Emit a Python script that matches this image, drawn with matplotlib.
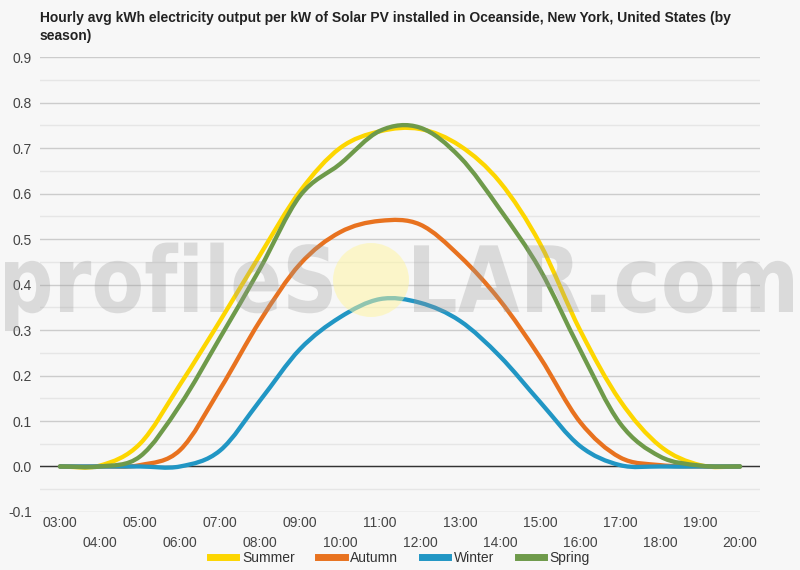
import matplotlib
matplotlib.use('Agg')
import matplotlib.pyplot as plt
from matplotlib.path import Path
from matplotlib.patches import PathPatch, Ellipse
from matplotlib.lines import Line2D
from matplotlib.textpath import TextPath
from matplotlib.font_manager import FontProperties
from matplotlib.transforms import Affine2D, IdentityTransform
import numpy as np

plt.rcParams['font.family'] = ['Liberation Sans', 'DejaVu Sans']

# hourly averages, 03:00 .. 20:00
hours = ['03:00', '04:00', '05:00', '06:00', '07:00', '08:00', '09:00', '10:00', '11:00',
         '12:00', '13:00', '14:00', '15:00', '16:00', '17:00', '18:00', '19:00', '20:00']
summer = [0, 0.002, 0.05, 0.18, 0.32, 0.465, 0.605, 0.70, 0.737,
          0.742, 0.705, 0.625, 0.49, 0.30, 0.145, 0.045, 0.003, 0]
autumn = [0, 0, 0.003, 0.036, 0.17, 0.32, 0.445, 0.515, 0.54,
          0.532, 0.462, 0.365, 0.24, 0.098, 0.02, 0.003, 0, 0]
winter = [0, 0, 0, 0, 0.035, 0.145, 0.258, 0.328, 0.368,
          0.36, 0.32, 0.242, 0.142, 0.045, 0.003, 0, 0, 0]
spring = [0, 0, 0.022, 0.135, 0.283, 0.435, 0.595, 0.665, 0.738,
          0.745, 0.68, 0.565, 0.433, 0.257, 0.095, 0.022, 0.002, 0]

series = [('Summer', summer, '#fdd600'),
          ('Autumn', autumn, '#e8721f'),
          ('Winter', winter, '#2196c4'),
          ('Spring', spring, '#6e9a4a')]

BG = '#f7f7f7'
W, H = 800, 570


def smooth_path(y):
    # cubic bezier through the points (catmull-rom tangents)
    y = np.asarray(y, float)
    m = np.zeros_like(y)
    m[1:-1] = (y[2:] - y[:-2]) / 2
    verts = [(0, y[0])]
    codes = [Path.MOVETO]
    for i in range(len(y) - 1):
        verts += [(i + 1/3, y[i] + m[i]/3), (i + 1 - 1/3, y[i+1] - m[i+1]/3), (i + 1, y[i+1])]
        codes += [Path.CURVE4] * 3
    return Path(verts, codes)


def watermark(fig, s, x0, x1, base, xh):
    # bold text squeezed into a box given in pixels from the top-left
    tp = TextPath((0, 0), s, size=1, prop=FontProperties(family='DejaVu Sans', weight='bold'))
    ext = tp.get_extents()
    sy = xh / 0.547
    sx = (x1 - x0) / ext.width
    tr = Affine2D().translate(-ext.x0, 0).scale(sx, sy).translate(x0, H - base)
    fig.add_artist(PathPatch(tr.transform_path(tp), transform=IdentityTransform(),
                             facecolor='#999999', edgecolor='none', alpha=0.3, zorder=10))


fig = plt.figure(figsize=(8, 5.7), dpi=100, facecolor=BG)
ax = fig.add_axes([0.05, 0.1018, 0.9, 0.798], facecolor=BG)

x = np.arange(len(hours))
for name, vals, col in series:
    ax.add_patch(PathPatch(smooth_path(vals), facecolor='none', edgecolor=col,
                           lw=3.1, capstyle='round', joinstyle='round', zorder=3))

ax.set_xlim(-0.5, len(hours) - 0.5)
ax.set_ylim(-0.1, 0.9)
ax.set_yticks(np.arange(-0.1, 0.91, 0.1))
ax.set_yticklabels([f'{v:.1f}' for v in np.arange(-0.1, 0.91, 0.1)])
ax.set_yticks(np.arange(-0.05, 0.9, 0.1), minor=True)
ax.grid(True, which='major', axis='y', color='#cccccc', lw=1)
ax.grid(True, which='minor', axis='y', color='#e6e6e6', lw=1)
ax.axhline(0, color='#333333', lw=1, zorder=2)
ax.set_axisbelow(True)
for s in ax.spines.values():
    s.set_visible(False)

ax.set_xticks(x)
ax.set_xticklabels(hours)
ax.tick_params(axis='both', which='both', length=0, labelsize=10, labelcolor='#444444')
ax.tick_params(axis='y', pad=6)
for i, t in enumerate(ax.xaxis.get_major_ticks()):
    t.set_pad(3 if i % 2 == 0 else 17)

# profileSOLAR.com watermark, sun in place of the O
watermark(fig, 'profileS', 5, 332, 312, 50)
watermark(fig, 'LAR.com', 414, 793, 312, 50)
fig.add_artist(Ellipse((371/W, 1 - 280/H), 76/W, 74/H, transform=fig.transFigure,
                       facecolor='#fff59d', alpha=0.5, edgecolor='none', zorder=10))

fig.text(0.05, 1 - 11/H,
         'Hourly avg kWh electricity output per kW of Solar PV installed in Oceanside, New York, United States (by\nseason)',
         fontsize=10, fontweight='bold', color='#222222', va='top', ha='left', linespacing=1.4)

handles = [Line2D([], [], color=c, lw=5) for _, _, c in series]
fig.legend(handles, [n for n, _, _ in series], loc='center', bbox_to_anchor=(0.5, 12/H),
           ncol=4, frameon=False, fontsize=10, handlelength=1.9, handletextpad=0.4,
           columnspacing=1.7, labelcolor='#333333')

fig.savefig('out.png', dpi=100, facecolor=BG)
